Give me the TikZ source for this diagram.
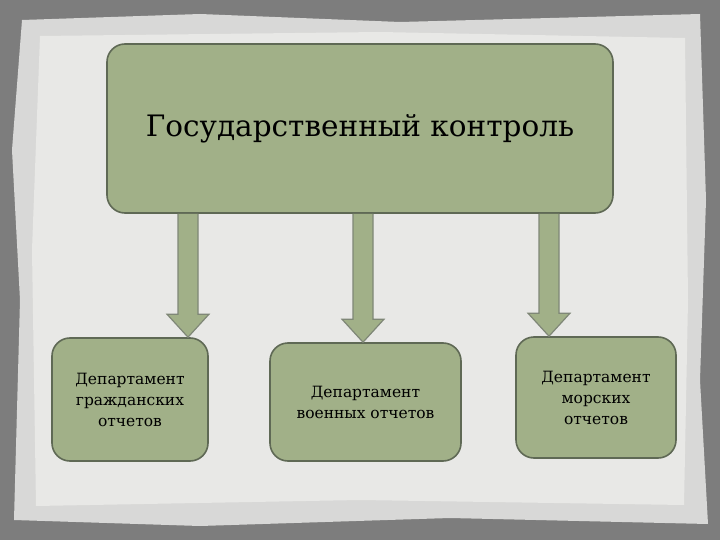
\documentclass[tikz,border=0pt]{standalone}
\usepackage{fontspec}
\setmainfont{DejaVu Serif}
\usetikzlibrary{calc}
\definecolor{sage}{RGB}{161,176,136}
\definecolor{edge}{RGB}{95,105,85}
\definecolor{frame}{RGB}{125,125,125}
\definecolor{paper}{RGB}{232,232,230}
\tikzset{
 box/.style={draw=edge,line width=1.6pt,fill=sage,rounded corners=18pt,align=center,inner sep=0pt},
 blockarrow/.style={draw=edge!80,line width=1.2pt,fill=sage}
}
\begin{document}
\begin{tikzpicture}[x=1pt,y=-1pt]
\useasboundingbox (0,0) rectangle (720,540);
\fill[frame] (0,0) rectangle (720,540);
\fill[paper!85!gray] (22,20) -- (200,14) -- (400,22) -- (700,14) -- (706,200) -- (700,380) -- (708,524) -- (450,518) -- (200,526) -- (14,520) -- (20,300) -- (12,150) -- cycle;
\fill[paper] (40,36) -- (380,32) -- (685,38) -- (688,300) -- (684,505) -- (360,500) -- (36,506) -- (32,250) -- cycle;
\node[box,minimum width=506,minimum height=169] (top) at (360,128.5) {\fontsize{29.5}{34}\selectfont Государственный контроль};
\node[box,minimum width=156,minimum height=123,font=\fontsize{15.5}{21}\selectfont] (b1) at (130,399.5) {Департамент\\гражданских\\отчетов};
\node[box,minimum width=191,minimum height=118,font=\fontsize{15.5}{21}\selectfont] (b2) at (365.5,402) {Департамент\\военных отчетов};
\node[box,minimum width=160,minimum height=121,font=\fontsize{15.5}{21}\selectfont] (b3) at (596,397.5) {Департамент\\морских\\отчетов};
\foreach \x/\b in {188/b1,363/b2,549/b3}{
 \coordinate (s) at (\x,214);
 \coordinate (e) at (\b.north -| s);
 \draw[blockarrow] ($(s)+(-10,0)$) -- ($(e)+(-10,-23)$) -- ($(e)+(-21,-23)$) -- (e) -- ($(e)+(21,-23)$) -- ($(e)+(10,-23)$) -- ($(s)+(10,0)$);
}
\end{tikzpicture}
\end{document}
